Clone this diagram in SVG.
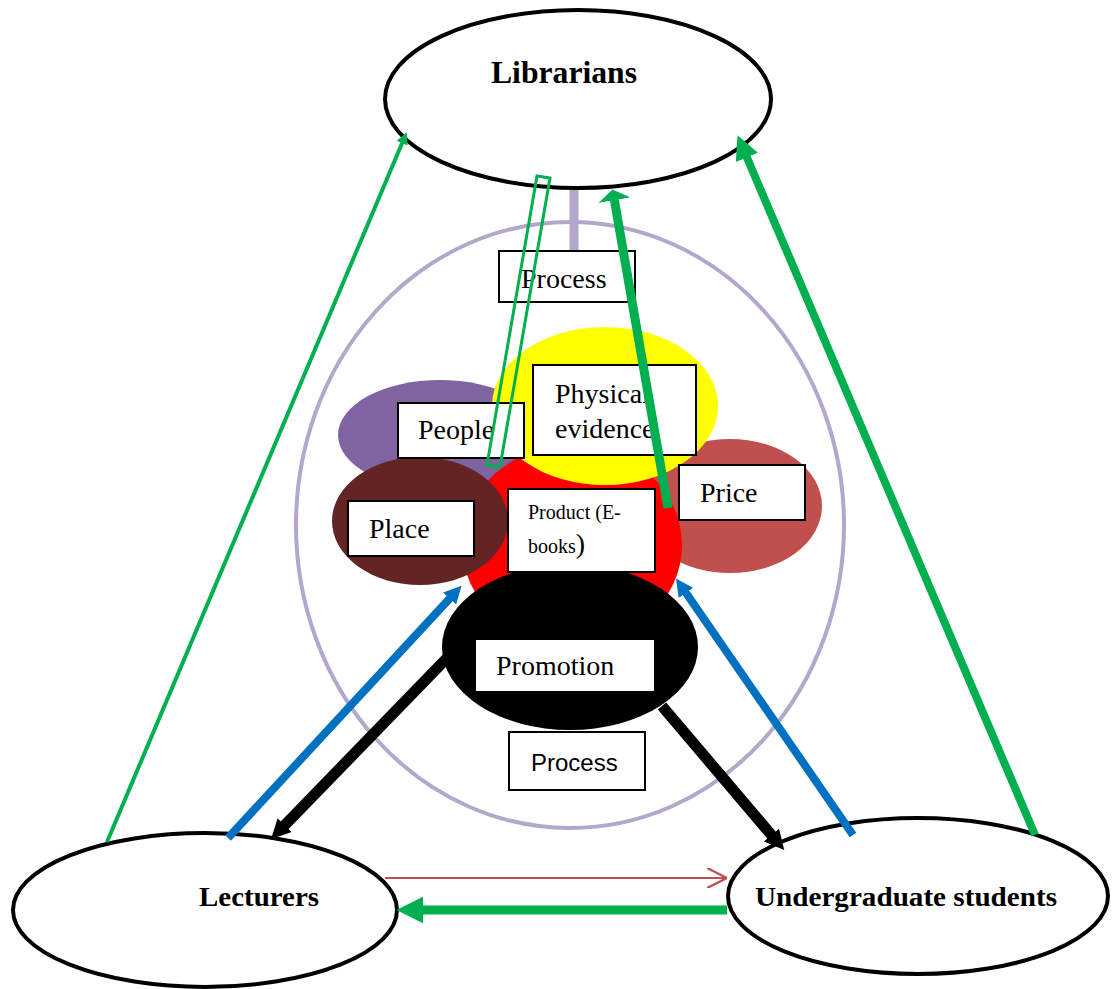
<svg xmlns="http://www.w3.org/2000/svg" width="1112" height="989" viewBox="0 0 1112 989">
<style>
.actor{fill:#fff;stroke:#000;stroke-width:4}
.box{fill:#fff;stroke:#000;stroke-width:2}
.lbl{font-family:"Liberation Serif",serif;font-size:28px;fill:#000}
.small{font-family:"Liberation Serif",serif;font-size:20px;fill:#000}
.bold{font-family:"Liberation Serif",serif;font-weight:bold;fill:#000}
.sans{font-family:"Liberation Sans",sans-serif;font-size:24px;fill:#000}
</style>
<defs>
<marker id="ag" viewBox="0 0 10 10" refX="2" refY="5" markerWidth="3" markerHeight="3" orient="auto"><path d="M0,0 L10,5 L0,10 z" fill="#00b050"/></marker>
<marker id="agw" viewBox="0 0 10 10" refX="2" refY="5" markerWidth="1.2" markerHeight="3.6" orient="auto" preserveAspectRatio="none"><path d="M0,0 L10,5 L0,10 z" fill="#00b050"/></marker>
<marker id="ab" viewBox="0 0 10 10" refX="2" refY="5" markerWidth="2.2" markerHeight="2.2" orient="auto"><path d="M0,0 L10,5 L0,10 z" fill="#0070c0"/></marker>
<marker id="ak" viewBox="0 0 10 10" refX="2" refY="5" markerWidth="1.8" markerHeight="1.8" orient="auto"><path d="M0,0 L10,5 L0,10 z" fill="#000"/></marker>
<marker id="ar" viewBox="0 0 10 10" refX="9" refY="5" markerWidth="10" markerHeight="10" orient="auto"><path d="M0,0 L10,5 L0,10" fill="none" stroke="#c0504d" stroke-width="1.2"/></marker>
</defs>

<g id="mix-circle">
<ellipse cx="570" cy="525" rx="274" ry="303" fill="none" stroke="#b4a7cc" stroke-width="4"/>
<line x1="574" y1="173" x2="574" y2="250" stroke="#b4a7cc" stroke-width="9"/>
</g>

<g id="people"><ellipse cx="440" cy="435" rx="102" ry="55" fill="#8064a2"/></g>
<g id="price-shape"><ellipse cx="730" cy="506" rx="92" ry="67" fill="#c0504d"/></g>
<g id="product-shape"><ellipse cx="572" cy="545" rx="110" ry="100" fill="#ff0000"/></g>
<g id="physical-shape"><ellipse cx="605" cy="406" rx="113" ry="79" fill="#ffff00"/></g>
<g id="place-shape"><ellipse cx="420" cy="521" rx="88" ry="64" fill="#632523"/></g>
<g id="promotion-shape"><ellipse cx="570" cy="647" rx="128" ry="83" fill="#000"/></g>

<g id="process-top"><rect class="box" x="499" y="251" width="136" height="51"/><text class="lbl" x="521" y="288">Process</text></g>
<g id="people-label"><rect class="box" x="398" y="403" width="126" height="55"/><text class="lbl" x="418" y="439">People</text></g>
<g id="physical"><rect class="box" x="533" y="365" width="163" height="90"/><text class="lbl" x="555" y="403">Physical</text><text class="lbl" x="555" y="438">evidence</text></g>
<g id="price"><rect class="box" x="679" y="465" width="126" height="55"/><text class="lbl" x="700" y="502">Price</text></g>
<g id="place"><rect class="box" x="348" y="501" width="126" height="55"/><text class="lbl" x="369" y="538">Place</text></g>
<g id="product"><rect class="box" x="508" y="489" width="147" height="83"/><text class="small" x="528" y="519">Product (E-</text><text class="small" x="528" y="553">books<tspan style="font-size:28px">)</tspan></text></g>
<g id="promotion"><rect class="box" x="475" y="639" width="180" height="53"/><text class="lbl" x="496" y="675">Promotion</text></g>
<g id="process-bottom"><rect class="box" x="509" y="732" width="136" height="58"/><text class="sans" x="531" y="771">Process</text></g>

<g id="librarians"><ellipse class="actor" cx="578" cy="99" rx="193" ry="89"/><text class="bold" x="491" y="83" font-size="31" textLength="146" lengthAdjust="spacingAndGlyphs">Librarians</text></g>
<g id="lecturers"><ellipse class="actor" cx="205" cy="910" rx="192" ry="77"/><text class="bold" x="199" y="906" font-size="28" textLength="120" lengthAdjust="spacingAndGlyphs">Lecturers</text></g>
<g id="undergraduates"><ellipse class="actor" cx="918" cy="896" rx="190" ry="78"/><text class="bold" x="755" y="906" font-size="28" textLength="302" lengthAdjust="spacingAndGlyphs">Undergraduate students</text></g>

<g id="connectors">
<line x1="107" y1="842" x2="403" y2="141" stroke="#00b050" stroke-width="4" marker-end="url(#ag)"/>
<line x1="1035" y1="835" x2="745" y2="153" stroke="#00b050" stroke-width="8" marker-end="url(#ag)"/>
<line x1="668" y1="508" x2="614" y2="198" stroke="#00b050" stroke-width="9" marker-end="url(#agw)"/>
<polygon points="537,176 550,178 500,467 487,465" fill="none" stroke="#00b050" stroke-width="3"/>
<line x1="228" y1="838" x2="452" y2="596" stroke="#0070c0" stroke-width="8" marker-end="url(#ab)"/>
<line x1="853" y1="835" x2="684" y2="590" stroke="#0070c0" stroke-width="8" marker-end="url(#ab)"/>
<line x1="448" y1="657" x2="282" y2="828" stroke="#000" stroke-width="11" marker-end="url(#ak)"/>
<line x1="662" y1="706" x2="774" y2="838" stroke="#000" stroke-width="11" marker-end="url(#ak)"/>
<line x1="385" y1="878" x2="725" y2="878" stroke="#c0504d" stroke-width="2" marker-end="url(#ar)"/>
<line x1="727" y1="910" x2="418" y2="910" stroke="#00b050" stroke-width="9" marker-end="url(#ag)"/>
</g>
</svg>
